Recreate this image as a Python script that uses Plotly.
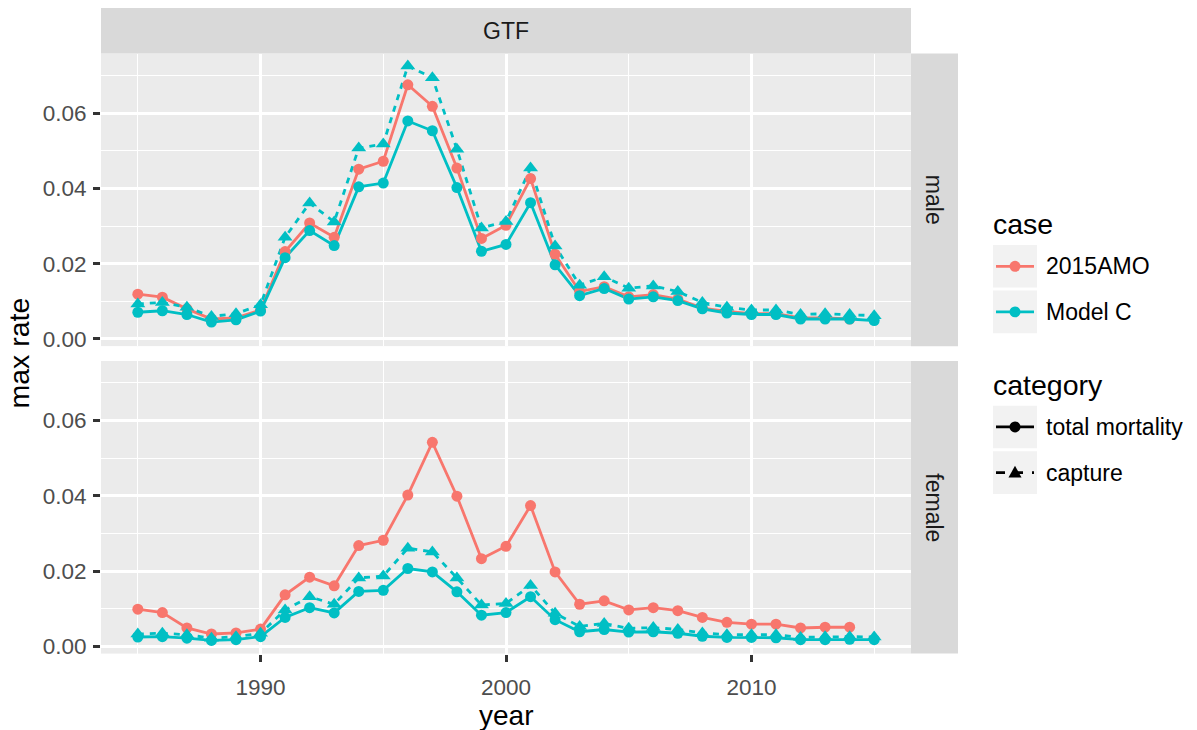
import plotly.graph_objects as go

years_all = list(range(1985, 2016))
years_amo = list(range(1985, 2015))

male_amo_total = [0.0119, 0.0111, 0.0080, 0.0053, 0.0056, 0.0077, 0.0232, 0.0308, 0.0270, 0.0451,
                  0.0472, 0.0675, 0.0618, 0.0454, 0.0267, 0.0302, 0.0426, 0.0225, 0.0126, 0.0139,
                  0.0112, 0.0118, 0.0106, 0.0082, 0.0073, 0.0067, 0.0067, 0.0056, 0.0056, 0.0053]
male_mc_total = [0.0071, 0.0075, 0.0065, 0.0045, 0.0051, 0.0074, 0.0216, 0.0288, 0.0248, 0.0404,
                 0.0414, 0.0579, 0.0553, 0.0402, 0.0233, 0.0251, 0.0362, 0.0197, 0.0115, 0.0134,
                 0.0106, 0.0112, 0.0102, 0.0080, 0.0069, 0.0065, 0.0065, 0.0053, 0.0053, 0.0053, 0.0049]
male_mc_capture = [0.0093, 0.0097, 0.0084, 0.0060, 0.0067, 0.0091, 0.0270, 0.0361, 0.0311, 0.0507,
                   0.0518, 0.0725, 0.0694, 0.0504, 0.0295, 0.0312, 0.0454, 0.0247, 0.0143, 0.0165,
                   0.0135, 0.0141, 0.0126, 0.0097, 0.0084, 0.0077, 0.0077, 0.0065, 0.0067, 0.0065, 0.0062]

female_amo_total = [0.0099, 0.0090, 0.0049, 0.0033, 0.0036, 0.0046, 0.0137, 0.0184, 0.0161, 0.0268,
                    0.0282, 0.0402, 0.0542, 0.0399, 0.0233, 0.0266, 0.0374, 0.0198, 0.0112, 0.0121,
                    0.0097, 0.0103, 0.0095, 0.0077, 0.0064, 0.0059, 0.0059, 0.0049, 0.0051, 0.0051]
female_mc_total = [0.0025, 0.0026, 0.0022, 0.0016, 0.0018, 0.0026, 0.0077, 0.0103, 0.0089, 0.0146,
                   0.0149, 0.0207, 0.0198, 0.0145, 0.0083, 0.0090, 0.0132, 0.0071, 0.0039, 0.0045,
                   0.0038, 0.0039, 0.0035, 0.0027, 0.0024, 0.0024, 0.0023, 0.0018, 0.0018, 0.0019, 0.0018]
female_mc_capture = [0.0033, 0.0035, 0.0031, 0.0022, 0.0026, 0.0035, 0.0097, 0.0132, 0.0112, 0.0182,
                     0.0187, 0.0261, 0.0251, 0.0182, 0.0110, 0.0114, 0.0162, 0.0088, 0.0053, 0.0061,
                     0.0048, 0.0050, 0.0045, 0.0036, 0.0031, 0.0031, 0.0031, 0.0024, 0.0026, 0.0026, 0.0025]

case_labels = ["2015AMO", "Model C"]
category_labels = ["total mortality", "capture"]
facet_title = "GTF"
row_labels = ["male", "female"]
x_ticks = [1990, 2000, 2010]
y_ticks = [0.00, 0.02, 0.04, 0.06]

RED = "#F8766D"
TEAL = "#00BFC4"
W, H = 1197, 730
FONT = "Liberation Sans, Arial, sans-serif"


def px(x):
    return x / W


def py(y):
    return 1 - y / H


# panel pixel boxes
PX0, PX1 = 101, 911
TOP = (54, 349)
BOT = (364, 659)

series = [
    # (x, y, color, dash, symbol, yaxis)
    (years_amo, male_amo_total, RED, "solid", "circle", "y"),
    (years_all, male_mc_total, TEAL, "solid", "circle", "y"),
    (years_all, male_mc_capture, TEAL, "6px,6px", "triangle-up", "y"),
    (years_amo, female_amo_total, RED, "solid", "circle", "y2"),
    (years_all, female_mc_total, TEAL, "solid", "circle", "y2"),
    (years_all, female_mc_capture, TEAL, "6px,6px", "triangle-up", "y2"),
]

fig = go.Figure()
for xs, ys, col, dash, sym, ya in series:
    fig.add_trace(go.Scatter(x=xs, y=ys, mode="lines", line=dict(color=col, width=2.8, dash=dash),
                             xaxis="x" if ya == "y" else "x2", yaxis=ya, showlegend=False,
                             hoverinfo="skip"))
for xs, ys, col, dash, sym, ya in series:
    fig.add_trace(go.Scatter(x=xs, y=ys, mode="markers",
                             marker=dict(color=col, size=11 if sym == "circle" else 13, symbol=sym,
                                         line=dict(width=0)),
                             xaxis="x" if ya == "y" else "x2", yaxis=ya, showlegend=False))

xr = [1983.5, 2016.5]
yr = [-0.0019, 0.0758]
grid = dict(showgrid=True, gridcolor="white", gridwidth=2.6, zeroline=False, showline=False)
minor_x = dict(showgrid=True, gridcolor="white", gridwidth=1.3, dtick=5, tick0=1985, ticks="")
minor_y = dict(showgrid=True, gridcolor="white", gridwidth=1.3, dtick=0.01, tick0=0, ticks="")
tickfont = dict(family=FONT, size=22.5, color="#4D4D4D")

fig.update_layout(
    width=W, height=H, margin=dict(l=0, r=0, t=0, b=0),
    paper_bgcolor="white", plot_bgcolor="#EBEBEB",
    xaxis=dict(domain=[px(PX0), px(PX1)], range=xr, anchor="y", tickvals=x_ticks,
               showticklabels=False, ticks="", minor=minor_x, **grid),
    yaxis=dict(domain=[py(TOP[1]), py(TOP[0])], range=yr, anchor="x", tickvals=y_ticks,
               tickformat=".2f", ticks="outside", ticklen=7, tickwidth=2.5, tickcolor="#333333",
               tickfont=tickfont, ticklabelstandoff=2, minor=minor_y, **grid),
    xaxis2=dict(domain=[px(PX0), px(PX1)], range=xr, anchor="y2", tickvals=x_ticks,
                ticks="outside", ticklen=7, tickwidth=2.5, tickcolor="#333333",
                tickfont=tickfont, ticklabelstandoff=6, minor=minor_x, **grid),
    yaxis2=dict(domain=[py(BOT[1]), py(BOT[0])], range=yr, anchor="x2", tickvals=y_ticks,
                tickformat=".2f", ticks="outside", ticklen=7, tickwidth=2.5, tickcolor="#333333",
                tickfont=tickfont, ticklabelstandoff=2, minor=minor_y, **grid),
)

shapes = []
annotations = []
STRIP = "#D9D9D9"
# top strip
shapes.append(dict(type="rect", xref="paper", yref="paper", x0=px(PX0), x1=px(PX1), y0=py(TOP[0]),
                   y1=py(8), fillcolor=STRIP, line=dict(width=0), layer="below"))
annotations.append(dict(xref="paper", yref="paper", x=px((PX0 + PX1) / 2), y=py(31), text=facet_title,
                        showarrow=False, font=dict(family=FONT, size=23, color="#1A1A1A"),
                        xanchor="center", yanchor="middle"))
# right strips
for (y0, y1), lab in zip([TOP, BOT], row_labels):
    shapes.append(dict(type="rect", xref="paper", yref="paper", x0=px(PX1), x1=px(958), y0=py(y1),
                       y1=py(y0), fillcolor=STRIP, line=dict(width=0), layer="below"))
    annotations.append(dict(xref="paper", yref="paper", x=px(934), y=py((y0 + y1) / 2), text=lab,
                            textangle=90, showarrow=False,
                            font=dict(family=FONT, size=23, color="#1A1A1A"),
                            xanchor="center", yanchor="middle"))

# axis titles
annotations.append(dict(xref="paper", yref="paper", x=px((PX0 + PX1) / 2), y=py(721), text="year",
                        showarrow=False, font=dict(family=FONT, size=28, color="black"),
                        xanchor="center", yanchor="middle", borderpad=0))
annotations.append(dict(xref="paper", yref="paper", x=px(19), y=py((TOP[0] + BOT[1]) / 2), text="max rate",
                        textangle=-90, showarrow=False, font=dict(family=FONT, size=28.5, color="black"),
                        xanchor="center", yanchor="middle"))

# legends (drawn manually, ggplot style)
KX0, KX1 = 993, 1037
TX = 1044


def legend_title(text, yc):
    annotations.append(dict(xref="paper", yref="paper", x=px(KX0 - 2), y=py(yc), text=text,
                            showarrow=False, font=dict(family=FONT, size=28.5, color="black"),
                            xanchor="left", yanchor="middle"))


def legend_key(y0, y1, label, color, dash, symbol):
    yc = (y0 + y1) / 2
    xc = (KX0 + KX1) / 2
    shapes.append(dict(type="rect", xref="paper", yref="paper", x0=px(KX0), x1=px(KX1), y0=py(y1),
                       y1=py(y0), fillcolor="#F2F2F2", line=dict(width=0)))
    shapes.append(dict(type="line", xref="paper", yref="paper", x0=px(KX0 + 3), x1=px(KX1 - 3),
                       y0=py(yc), y1=py(yc), line=dict(color=color, width=2.8, dash=dash)))
    if symbol == "circle":
        r = 5.5
        shapes.append(dict(type="circle", xref="paper", yref="paper", x0=px(xc - r), x1=px(xc + r),
                           y0=py(yc + r), y1=py(yc - r), fillcolor=color, line=dict(width=0)))
    else:
        h = 6.5
        path = "M {} {} L {} {} L {} {} Z".format(px(xc - h), py(yc + h * 0.75), px(xc + h), py(yc + h * 0.75),
                                                  px(xc), py(yc - h * 1.05))
        shapes.append(dict(type="path", xref="paper", yref="paper", path=path, fillcolor=color,
                           line=dict(width=0)))
    annotations.append(dict(xref="paper", yref="paper", x=px(TX), y=py(yc), text=label,
                            showarrow=False, font=dict(family=FONT, size=23, color="black"),
                            xanchor="left", yanchor="middle"))


legend_title("case", 226)
legend_key(247, 290, case_labels[0], RED, "solid", "circle")
legend_key(293, 336, case_labels[1], TEAL, "solid", "circle")
legend_title("category", 388)
legend_key(409, 452, category_labels[0], "black", "solid", "circle")
legend_key(455, 498, category_labels[1], "black", "dash", "triangle")

fig.update_layout(shapes=shapes, annotations=annotations)
fig.write_html("out.html", config={"displayModeBar": False})

# remove the browser's default page margin so the figure sits at the window's origin
with open("out.html", "r", encoding="utf-8") as f:
    html = f.read()
html = html.replace("<head>", "<head><style>html,body{margin:0;padding:0;overflow:hidden;}</style>", 1)
with open("out.html", "w", encoding="utf-8") as f:
    f.write(html)
